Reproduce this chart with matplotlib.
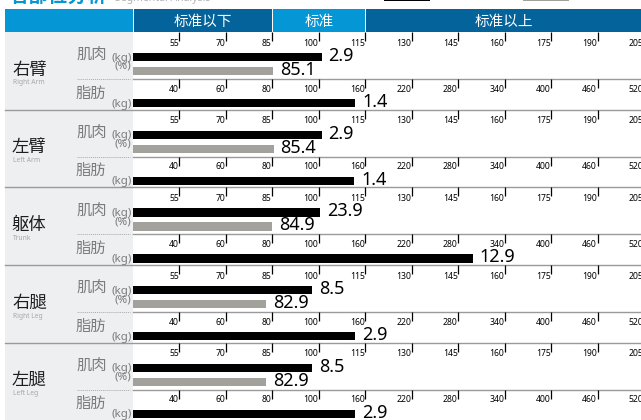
import numpy as np
import matplotlib
matplotlib.use("Agg")
import matplotlib.pyplot as plt
from matplotlib.patches import Rectangle
from matplotlib import transforms

plt.rcParams['font.family'] = ['Noto Sans', 'Noto Sans CJK SC', 'DejaVu Sans']

# ---------------- data ----------------
parts_cn = ['右臂', '左臂', '躯体', '右腿', '左腿']
parts_en = ['Right Arm', 'Left Arm', 'Trunk', 'Right Leg', 'Left Leg']
muscle_kg = [2.9, 2.9, 23.9, 8.5, 8.5]
muscle_std_pct = [100.9, 100.9, 100.3, 97.7, 97.7]     # bar length (% of standard)
muscle_pct = [85.1, 85.4, 84.9, 82.9, 82.9]            # grey bar / label
fat_kg = [1.4, 1.4, 12.9, 2.9, 2.9]
fat_std_pct = [146.8, 145.5, 298.8, 146.5, 146.5]      # bar length (% of standard)
muscle_ticks = [55, 70, 85, 100, 115, 130, 145, 160, 175, 190, 205]
fat_ticks = [40, 60, 80, 100, 160, 220, 280, 340, 400, 460, 520]
header_labels = ['标准以下', '标准', '标准以上']
header_bounds = [85, 115]
title_cn = '各部位分析'
title_en = 'Segmental Analysis'

# ---------------- layout ----------------
W, H = 641, 420
fig = plt.figure(figsize=(W / 100, H / 100), dpi=100)
fig.patch.set_facecolor('white')

LIGHT = '#0596d5'
DARK = '#04639b'
GREY_BAR = '#a3a19c'
LINE = '#9a9a9a'
LEFT_BG = '#eeeff1'

X0, X1 = 133, 644          # chart area in px
SEC0, SEC_H = 32, 77.7

muscle_min = 40
fat_knots = [20] + fat_ticks
fat_pos = np.arange(len(fat_knots), dtype=float)


def fat_fwd(v):
    return np.interp(v, fat_knots, fat_pos)


def fat_inv(p):
    return np.interp(p, fat_pos, fat_knots)


def add_px_axes(x0, y0, x1, y1):
    ax = fig.add_axes([x0 / W, 1 - y1 / H, (x1 - x0) / W, (y1 - y0) / H])
    ax.set_facecolor('none')
    for sp in ax.spines.values():
        sp.set_visible(False)
    ax.set_yticks([])
    return ax


bg = fig.add_axes([0, 0, 1, 1])
bg.set_xlim(0, W)
bg.set_ylim(H, 0)
bg.axis('off')

bg.add_patch(Rectangle((5, SEC0), X0 - 5, H - SEC0, color=LEFT_BG, lw=0, zorder=0))

tick_font = dict(fontsize=6.2, fontweight='bold', color='black', ha='right', va='center')
val_font = dict(fontsize=13, color='black', ha='left', va='center')

first_ax = None
for i in range(len(parts_cn)):
    s = SEC0 + i * SEC_H
    # muscle axes
    ax = add_px_axes(X0, s, X1, s + 47)
    ax.set_xlim(muscle_min, muscle_ticks[-1])
    ax.set_ylim(47, 0)
    ax.set_xticks(muscle_ticks)
    ax.tick_params(axis='x', top=True, bottom=False, direction='in', length=6.5,
                   width=0.9, color='black', labeltop=False, labelbottom=False)
    lab_tr = transforms.offset_copy(ax.transData, fig=fig, x=-0.5, y=0, units='dots')
    for t in muscle_ticks:
        ax.text(t, 11, str(t), transform=lab_tr, **tick_font)
    ax.barh(25, muscle_std_pct[i] - muscle_min, left=muscle_min, height=8.3,
            color='black', lw=0)
    ax.barh(39, muscle_pct[i] - muscle_min, left=muscle_min, height=8.3,
            color=GREY_BAR, lw=0)
    vtr = transforms.offset_copy(ax.transData, fig=fig, x=7, y=1, units='dots')
    ax.text(muscle_std_pct[i], 25, f'{muscle_kg[i]:.1f}', transform=vtr, **val_font)
    ax.text(muscle_pct[i], 39, f'{muscle_pct[i]:.1f}', transform=vtr, **val_font)
    if first_ax is None:
        first_ax = ax

    # fat axes
    fx = add_px_axes(X0, s + 47, X1, s + 77)
    fx.set_xscale('function', functions=(fat_fwd, fat_inv))
    fx.set_xlim(fat_knots[0], fat_knots[-1])
    fx.set_ylim(30, 0)
    fx.set_xticks(fat_ticks)
    fx.xaxis.set_minor_locator(matplotlib.ticker.NullLocator())
    fx.tick_params(axis='x', top=True, bottom=False, direction='in', length=6.5,
                   width=0.9, color='black', labeltop=False, labelbottom=False)
    flab_tr = transforms.offset_copy(fx.transData, fig=fig, x=-0.5, y=0, units='dots')
    for t in fat_ticks:
        fx.text(t, 10, str(t), transform=flab_tr, **tick_font)
    fx.barh(24, fat_std_pct[i] - fat_knots[0], left=fat_knots[0], height=8.3,
            color='black', lw=0)
    fvtr = transforms.offset_copy(fx.transData, fig=fig, x=7, y=1, units='dots')
    fx.text(fat_std_pct[i], 24, f'{fat_kg[i]:.1f}', transform=fvtr, **val_font)

    # lines
    if i > 0:
        bg.plot([5, W], [s, s], color=LINE, lw=1, zorder=1)
    bg.plot([X0, W], [s + 47, s + 47], color=LINE, lw=1, zorder=1)
    bg.plot([77, 130], [s + 47, s + 47], color='#aaaaaa', lw=0.7, ls=(0, (1, 1)), zorder=1)

    # left labels
    bg.text(12, s + 37.5, parts_cn[i], fontsize=12.5, color='#1e1e1e', ha='left', va='center',
            family=['Noto Sans CJK SC'])
    bg.text(13, s + 51, parts_en[i], fontsize=4.8, color='#a8a8a8', ha='left', va='center')
    bg.text(76, s + 22.5, '肌肉', fontsize=11, color='#7c7c7c', ha='left', va='center',
            family=['Noto Sans CJK SC'])
    bg.text(131.5, s + 26, '(kg)', fontsize=8.3, color='#7c7c7c', ha='right', va='center')
    bg.text(131.5, s + 34.5, '(%)', fontsize=8.3, color='#7c7c7c', ha='right', va='center')
    bg.text(76, s + 61, '脂肪', fontsize=11, color='#7c7c7c', ha='left', va='center',
            family=['Noto Sans CJK SC'])
    bg.text(131.5, s + 72, '(kg)', fontsize=8.3, color='#7c7c7c', ha='right', va='center')

# ---------------- header ----------------
fig.canvas.draw()
xb = [first_ax.transData.transform((b, 0))[0] for b in header_bounds]
HY0, HY1 = 9, 32
segs = [(5, X0 - 0.5, LIGHT, None),
        (X0 + 0.5, xb[0] - 0.5, DARK, header_labels[0]),
        (xb[0] + 0.5, xb[1] - 0.5, LIGHT, header_labels[1]),
        (xb[1] + 0.5, W, DARK, header_labels[2])]
for a, b, c, lab in segs:
    bg.add_patch(Rectangle((a, HY0), b - a, HY1 - HY0, color=c, lw=0, zorder=2))
    if lab:
        bg.text((a + b) / 2, (HY0 + HY1) / 2 + 1, lab, fontsize=10.5, color='white',
                ha='center', va='center', family=['Noto Sans CJK SC'], zorder=3)

# title (cut off at the top edge)
bg.text(9, 1.5, title_cn, fontsize=14, fontweight='bold', color=LIGHT, ha='left',
        va='baseline', family=['Noto Sans CJK SC'])
bg.text(115, 0.5, title_en, fontsize=7.5, color='#b0b0b0', ha='left', va='baseline')
bg.add_patch(Rectangle((384, -6), 46, 7, color='black', lw=0))
bg.add_patch(Rectangle((523, -6), 46, 7, color=GREY_BAR, lw=0))

fig.savefig('out.png', dpi=100)
